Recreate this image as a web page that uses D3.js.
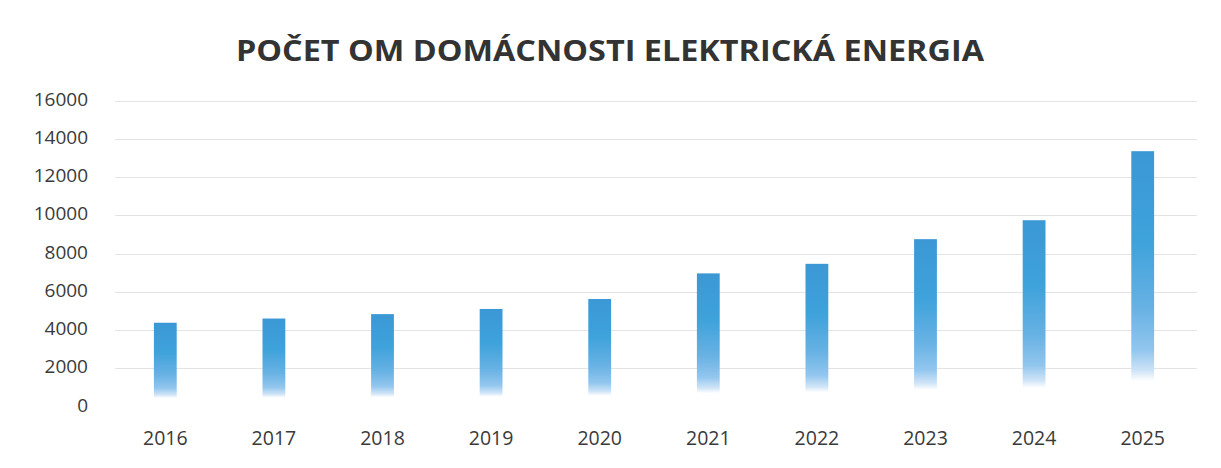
<!DOCTYPE html>
<html><head><meta charset="utf-8">
<script src="https://cdn.jsdelivr.net/npm/d3@7"></script>
<style>body{margin:0;background:#fff}svg{display:block}</style>
</head><body>
<script>
const title = "POČET OM DOMÁCNOSTI ELEKTRICKÁ ENERGIA";
const years = ["2016","2017","2018","2019","2020","2021","2022","2023","2024","2025"];
const values = [4380, 4600, 4830, 5100, 5620, 6960, 7460, 8750, 9740, 13350];
const yTicks = [0, 2000, 4000, 6000, 8000, 10000, 12000, 14000, 16000];

const W = 1221, H = 468;
const m = {left: 111, right: 24, top: 100.5, bottom: 61.5};
const svg = d3.select("body").append("svg").attr("width", W).attr("height", H);

const defs = svg.append("defs");
const g = defs.append("linearGradient").attr("id","barGrad")
  .attr("x1",0).attr("y1",0).attr("x2",0).attr("y2",1);
[[0,"#3b98d5"],[0.35,"#3ea2db"],[0.62,"#68b2e4"],[0.78,"#92c6ee"],[0.86,"#cfe4f7"],[0.9,"#ffffff"],[1,"#ffffff"]]
  .forEach(([o,c]) => g.append("stop").attr("offset",o).attr("stop-color",c));

const x = d3.scaleBand().domain(years).range([m.left, W - m.right]).paddingInner(0.79).paddingOuter(0.395);
const y = d3.scaleLinear().domain([0, 16000]).range([H - m.bottom, m.top]);

// gridlines
svg.append("g").selectAll("line").data(yTicks.filter(d => d > 0)).join("line")
  .attr("x1", 115).attr("x2", W - m.right)
  .attr("y1", d => Math.round(y(d)) + 0.5).attr("y2", d => Math.round(y(d)) + 0.5)
  .attr("stroke", "#e4e4e4").attr("stroke-width", 1.2);

// y axis labels
const yAxis = d3.axisLeft(y).tickValues(yTicks).tickSize(0).tickPadding(0).tickFormat(d3.format("d"));
svg.append("g").attr("transform", "translate(88,0)").call(yAxis)
  .call(s => s.select(".domain").remove())
  .selectAll("text").attr("font-family","'Open Sans', sans-serif").attr("font-size", 19)
  .attr("fill", "#3a3a3a").attr("dy", "0.24em");

// x axis labels
const xAxis = d3.axisBottom(x).tickSize(0).tickPadding(0);
svg.append("g").attr("transform", `translate(0,${H - m.bottom + 25})`).call(xAxis)
  .call(s => s.select(".domain").remove())
  .selectAll("text").attr("font-family","'Open Sans', sans-serif").attr("font-size", 19.5)
  .attr("fill", "#3a3a3a");

// bars
svg.append("g").selectAll("rect").data(values).join("rect")
  .attr("x", (d,i) => x(years[i]))
  .attr("width", x.bandwidth())
  .attr("y", d => y(d))
  .attr("height", d => y(0) - y(d))
  .attr("fill", "url(#barGrad)");

// title
svg.append("text").attr("x", 610).attr("y", 61).attr("text-anchor","middle")
  .attr("font-family","'Open Sans', sans-serif").attr("font-weight", 700).attr("font-size", 28)
  .attr("fill", "#333333").attr("textLength", 748).attr("lengthAdjust","spacingAndGlyphs")
  .text(title);
</script>
</body></html>
